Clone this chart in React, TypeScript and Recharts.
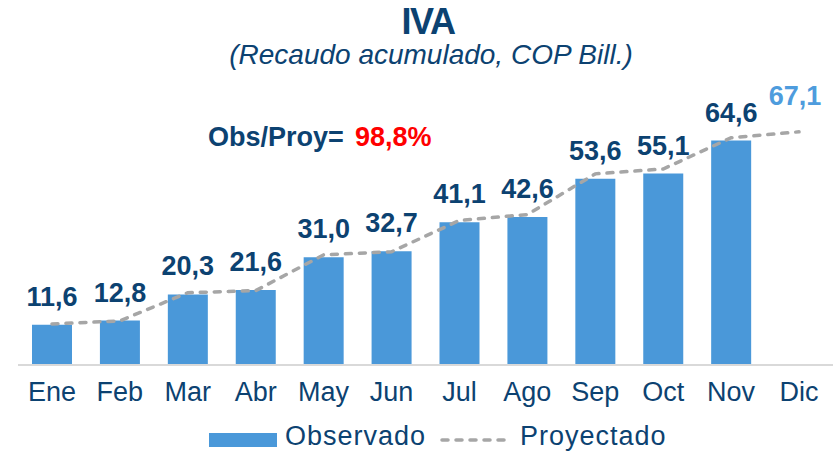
import {
  Bar,
  ComposedChart,
  LabelList,
  Legend,
  Line,
  XAxis,
  YAxis,
} from "recharts";

const months = ["Ene", "Feb", "Mar", "Abr", "May", "Jun", "Jul", "Ago", "Sep", "Oct", "Nov", "Dic"];
// recaudo observado (COP Bill.); Dic aún sin dato
const observado: (number | null)[] = [11.6, 12.8, 20.3, 21.6, 31.0, 32.7, 41.1, 42.6, 53.6, 55.1, 64.6, null];
// senda proyectada
const proyectado = [11.8, 12.7, 20.8, 21.4, 31.7, 32.6, 41.6, 43.3, 55.0, 56.4, 65.4, 67.1];
const ratioText = "98,8%";

const NAVY = "#0C4271";
const BLUE = "#4A98D9";
const LIGHT_BLUE = "#4E9CDD";
const GREY = "#A6A6A6";
const FONT = "'Liberation Sans', Arial, Helvetica, sans-serif";

const W = 833;
const H = 452;

const fmt = (v: number) => v.toFixed(1).replace(".", ",");

function LegendContent() {
  return (
    <svg width={W} height={34} style={{ display: "block" }}>
      <rect x={209} y={15} width={68} height={14} fill={BLUE} />
      <text x={285} y={27} fontFamily={FONT} fontSize={27} fill={NAVY} letterSpacing={1}>
        Observado
      </text>
      <line x1={442} x2={512} y1={22} y2={22} stroke={GREY} strokeWidth={3.5} strokeDasharray="6 8" strokeLinecap="round" />
      <text x={520} y={27} fontFamily={FONT} fontSize={27} fill={NAVY} letterSpacing={1}>
        Proyectado
      </text>
    </svg>
  );
}

export default function App() {
  const data = months.map((m, i) => ({
    month: m,
    observado: observado[i],
    proyectado: proyectado[i],
  }));

  return (
    <div style={{ position: "relative", width: W, height: H, background: "#fff" }}>
      <style>{"body{margin:0}"}</style>
      <ComposedChart
        width={W}
        height={H}
        data={data}
        margin={{ top: 87, right: 0, left: 18, bottom: 0 }}
      >
        <XAxis
          dataKey="month"
          height={87}
          axisLine={{ stroke: "#D9D9D9", strokeWidth: 2 }}
          tickLine={false}
          tickSize={0}
          tickMargin={17}
          interval={0}
          tick={{ fontSize: 27, fill: NAVY, fontFamily: FONT }}
        />
        <YAxis hide domain={[0, 80]} />
        <Legend
          verticalAlign="middle"
          align="center"
          layout="horizontal"
          wrapperStyle={{ top: 418, left: 0, width: W }}
          content={() => <LegendContent />}
        />
        <Bar dataKey="observado" name="Observado" fill={BLUE} barSize={40} isAnimationActive={false}>
          <LabelList
            dataKey="observado"
            content={(props) => {
              const { x, y, width, value } = props as { x: number; y: number; width: number; value: number | null };
              if (value == null) return null;
              return (
                <text
                  x={x + width / 2}
                  y={y - 19}
                  textAnchor="middle"
                  fontFamily={FONT}
                  fontWeight="bold"
                  fontSize={27}
                  fill={NAVY}
                >
                  {fmt(value)}
                </text>
              );
            }}
          />
        </Bar>
        <Line
          type="linear"
          dataKey="proyectado"
          name="Proyectado"
          stroke={GREY}
          strokeWidth={3.5}
          strokeDasharray="6 8"
          strokeLinecap="round"
          dot={false}
          activeDot={false}
          isAnimationActive={false}
        >
          <LabelList
            dataKey="proyectado"
            content={(props) => {
              const { x, y, index, value } = props as { x: number; y: number; index: number; value: number };
              // only the December projection carries a label (no observed bar yet)
              if (observado[index] != null) return null;
              return (
                <text
                  x={x - 4}
                  y={y - 27}
                  textAnchor="middle"
                  fontFamily={FONT}
                  fontWeight="bold"
                  fontSize={27}
                  fill={LIGHT_BLUE}
                >
                  {fmt(value)}
                </text>
              );
            }}
          />
        </Line>
      </ComposedChart>
      <svg
        width={W}
        height={H}
        style={{ position: "absolute", left: 0, top: 0, pointerEvents: "none" }}
      >
        <text x={428} y={34} textAnchor="middle" fontFamily={FONT} fontWeight="bold" fontSize={36} letterSpacing={-1.5} fill={NAVY}>
          IVA
        </text>
        <text x={431} y={64} textAnchor="middle" fontFamily={FONT} fontStyle="italic" fontSize={28} fill={NAVY}>
          (Recaudo acumulado, COP Bill.)
        </text>
        <text x={208} y={146} fontFamily={FONT} fontWeight="bold" fontSize={27} fill={NAVY}>
          Obs/Proy=
        </text>
        <text x={355} y={146} fontFamily={FONT} fontWeight="bold" fontSize={27} fill="#FF0000">
          {ratioText}
        </text>
      </svg>
    </div>
  );
}
